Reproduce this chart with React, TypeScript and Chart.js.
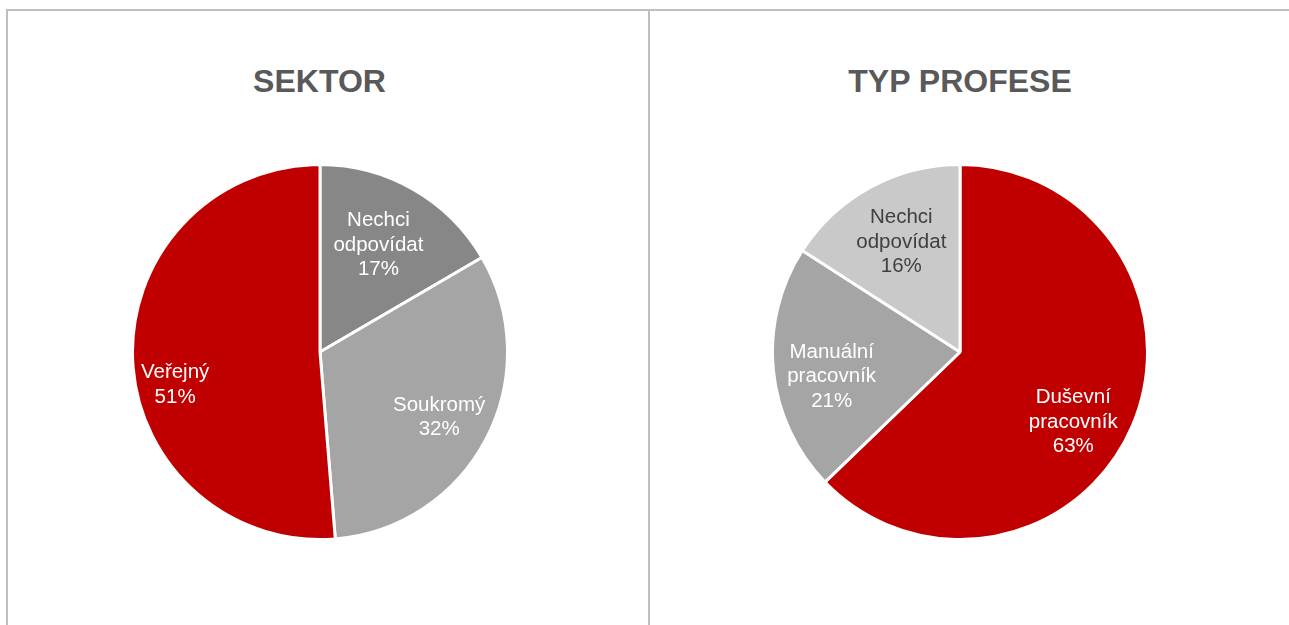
import React, { useEffect, useRef } from "react";
import { Chart, registerables } from "chart.js";

Chart.register(...registerables);

// ---- data ----
const sektorTitle = "SEKTOR";
const sektorCategories = ["Nechci odpovídat", "Soukromý", "Veřejný"];
const sektorValues = [16.6, 32.1, 51.3];
const sektorColors = ["#878787", "#a5a5a5", "#c00000"];
const sektorLabelColors = ["#ffffff", "#ffffff", "#ffffff"];
const sektorLabelRadius = [0.66, 0.72, 0.79];
const sektorLabelShiftDeg = [-1.7, 0.5, -9.7];

const profeseTitle = "TYP PROFESE";
const profeseCategories = ["Duševní pracovník", "Manuální pracovník", "Nechci odpovídat"];
const profeseValues = [62.8, 21.3, 15.9];
const profeseColors = ["#c00000", "#a5a5a5", "#c9c9c9"];
const profeseLabelColors = ["#ffffff", "#ffffff", "#404040"];
const profeseLabelRadius = [0.705, 0.695, 0.675];
const profeseLabelShiftDeg = [8, -4.4, 1];

const FONT = '"Liberation Sans", Arial, sans-serif';

type PieProps = {
  categories: string[];
  values: number[];
  colors: string[];
  labelColors: string[];
  labelRadius: number[];
  labelShift: number[];
};

function PieCanvas(props: PieProps) {
  const ref = useRef<HTMLCanvasElement | null>(null);
  useEffect(() => {
    if (!ref.current) return;
    const labelPlugin = {
      id: "sliceLabels",
      afterDatasetsDraw(chart: any) {
        const ctx = chart.ctx;
        const meta = chart.getDatasetMeta(0);
        const total = props.values.reduce((a, b) => a + b, 0);
        ctx.save();
        ctx.font = `20.5px ${FONT}`;
        ctx.textAlign = "center";
        ctx.textBaseline = "middle";
        meta.data.forEach((arc: any, i: number) => {
          const p = arc.getProps(["x", "y", "startAngle", "endAngle", "outerRadius"], true);
          const mid = (p.startAngle + p.endAngle) / 2 + (props.labelShift[i] * Math.PI) / 180;
          const r = p.outerRadius * props.labelRadius[i];
          const cx = p.x + Math.cos(mid) * r;
          const cy = p.y + Math.sin(mid) * r + 2;
          const lines = props.categories[i].split(" ");
          lines.push(Math.round((props.values[i] / total) * 100) + "%");
          const lh = 24.5;
          const y0 = cy - ((lines.length - 1) * lh) / 2;
          ctx.fillStyle = props.labelColors[i];
          lines.forEach((ln, k) => ctx.fillText(ln, cx, y0 + k * lh));
        });
        ctx.restore();
      },
    };
    const chart = new Chart(ref.current, {
      type: "pie",
      data: {
        labels: props.categories,
        datasets: [
          {
            data: props.values,
            backgroundColor: props.colors,
            borderColor: "#ffffff",
            borderWidth: 3,
            offset: 0,
            hoverOffset: 0,
          },
        ],
      },
      options: {
        animation: false,
        responsive: false,
        maintainAspectRatio: false,
        layout: { padding: 0 },
        plugins: {
          legend: { display: false },
          tooltip: { enabled: false },
          title: { display: false },
        },
        events: [],
      },
      plugins: [labelPlugin],
    });
    return () => chart.destroy();
  }, []);
  return <canvas ref={ref} width={378} height={378} style={{ width: 378, height: 378, display: "block" }} />;
}

const lineColor = "#bfbfbf";

export default function App() {
  return (
    <div
      style={{
        position: "absolute",
        left: 0,
        top: 0,
        width: 1289,
        height: 625,
        overflow: "hidden",
        background: "#ffffff",
      }}
    >
      <div style={{ position: "absolute", left: 6, top: 9, width: 1283, height: 2, background: lineColor }} />
      <div style={{ position: "absolute", left: 6, top: 9, width: 2, height: 616, background: lineColor }} />
      <div style={{ position: "absolute", left: 648, top: 9, width: 2, height: 616, background: lineColor }} />

      <div
        style={{
          position: "absolute",
          left: 0,
          top: 65,
          width: 639,
          textAlign: "center",
          font: `bold 32px ${FONT}`,
          lineHeight: "32px",
          color: "#595959",
        }}
      >
        {sektorTitle}
      </div>
      <div
        style={{
          position: "absolute",
          left: 640,
          top: 65,
          width: 640,
          textAlign: "center",
          font: `bold 32px ${FONT}`,
          lineHeight: "32px",
          color: "#595959",
        }}
      >
        {profeseTitle}
      </div>

      <div style={{ position: "absolute", left: 131, top: 163 }}>
        <PieCanvas
          categories={sektorCategories}
          values={sektorValues}
          colors={sektorColors}
          labelColors={sektorLabelColors}
          labelRadius={sektorLabelRadius}
          labelShift={sektorLabelShiftDeg}
        />
      </div>
      <div style={{ position: "absolute", left: 771, top: 163 }}>
        <PieCanvas
          categories={profeseCategories}
          values={profeseValues}
          colors={profeseColors}
          labelColors={profeseLabelColors}
          labelRadius={profeseLabelRadius}
          labelShift={profeseLabelShiftDeg}
        />
      </div>
    </div>
  );
}
